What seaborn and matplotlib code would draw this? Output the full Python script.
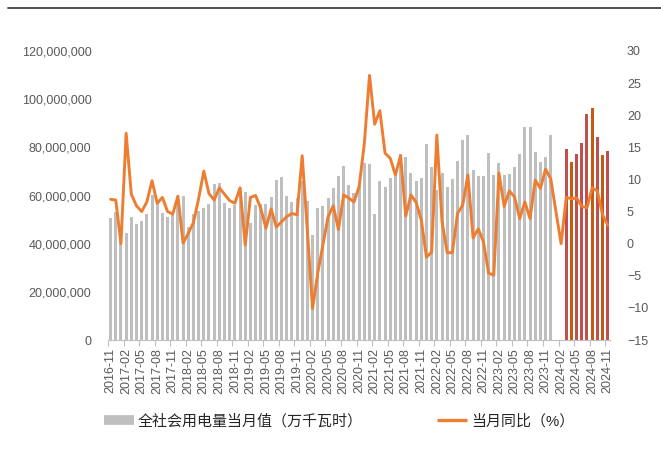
import numpy as np
import pandas as pd
import matplotlib
matplotlib.use("Agg")
import matplotlib.pyplot as plt
import seaborn as sns
from matplotlib.lines import Line2D
from matplotlib.ticker import FuncFormatter, FixedLocator

# ---------------- data ----------------
months = pd.period_range("2016-11", "2024-11", freq="M").strftime("%Y-%m").tolist()

# 全社会用电量当月值 (百万·万千瓦时)
consumption_m = [50.5, 53.0, 47.0, 44.6, 51.1, 48.3, 49.4, 52.2, 60.3, 56.8,
                 52.9, 51.2, 51.9, 59.8, 59.8, 47.0, 52.5, 53.4, 54.9, 56.3,
                 64.6, 65.0, 57.0, 54.7, 56.0, 62.0, 61.6, 48.5, 56.0, 56.4,
                 56.5, 59.5, 66.4, 67.5, 59.8, 57.5, 58.8, 66.0, 57.7, 43.8,
                 54.7, 55.5, 59.0, 63.1, 68.0, 72.4, 64.2, 61.2, 64.0, 73.5,
                 73.1, 52.4, 66.1, 63.5, 67.1, 70.0, 77.3, 75.8, 69.2, 66.0,
                 67.1, 81.2, 72.0, 62.3, 69.2, 63.4, 66.8, 74.3, 82.9, 85.0,
                 70.6, 68.1, 68.1, 77.5, 68.5, 73.4, 68.6, 69.0, 71.8, 77.3,
                 88.6, 88.3, 77.9, 74.0, 76.1, 85.3, None, None, 79.3, 73.9,
                 77.4, 82.0, 93.9, 96.3, 84.3, 77.0, 78.5]

# 当月同比 (%)
yoy = [6.9, 6.8, 0.0, 17.2, 7.7, 5.9, 5.0, 6.5, 9.8, 6.3,
       7.2, 5.0, 4.6, 7.4, 0.1, 1.6, 3.3, 7.0, 11.3, 7.8,
       6.8, 8.7, 7.7, 6.7, 6.3, 8.7, -0.2, 7.2, 7.5, 5.5,
       2.4, 5.4, 2.6, 3.4, 4.2, 4.7, 4.5, 13.7, 2.0, -10.1,
       -4.6, -0.2, 4.2, 5.9, 2.2, 7.6, 7.1, 6.5, 8.9, 15.6,
       26.2, 18.6, 20.7, 14.1, 13.3, 10.7, 13.7, 4.3, 7.6, 6.4,
       3.7, -2.1, -1.3, 16.9, 3.5, -1.4, -1.4, 4.7, 6.0, 10.7,
       0.9, 2.3, 0.3, -4.6, -4.9, 11.0, 5.8, 8.2, 7.3, 3.9,
       6.5, 3.9, 9.9, 8.6, 11.6, 10.1, 5.0, 0.0, 7.2, 7.0,
       7.1, 5.8, 5.6, 8.7, 8.2, 4.5, 2.9]

bar_group = (["gray"] * 88 +
             ["red", "orange", "red", "red", "red", "orange", "red", "orange", "red"])

legend_labels = ["全社会用电量当月值（万千瓦时）", "当月同比（%）"]

group_colors = {"gray": "#BFBFBF", "red": "#C0504D", "orange": "#C55A11"}
line_color = "#ED7D31"
tick_color = "#595959"

# ---------------- figure ----------------
sns.set_theme(style="white")
plt.rcParams["font.family"] = ["Liberation Sans", "Noto Sans CJK SC", "DejaVu Sans"]

df = pd.DataFrame({"month": months,
                   "value": [np.nan if v is None else v * 1e6 for v in consumption_m],
                   "group": bar_group})
month_palette = {m: group_colors[g] for m, g in zip(months, bar_group)}
df_bars = df.dropna()

fig = plt.figure(figsize=(6.61, 4.61), dpi=100)
ax = fig.add_axes([108 / 661, 1 - 340 / 461, (610.3 - 108) / 661, 289 / 461])

sns.barplot(data=df_bars, x="month", y="value", hue="month", order=months,
            hue_order=months, palette=month_palette, dodge=False,
            width=0.58, errorbar=None, legend=False, saturation=1,
            linewidth=0, edgecolor="none", ax=ax)

ax.set_xlim(-0.5, len(months) - 0.5)
ax.set_ylim(0, 120e6)
ax.set_yticks(np.arange(0, 120e6 + 1, 20e6))
ax.yaxis.set_major_formatter(FuncFormatter(lambda v, p: f"{int(v):,}"))
ax.set_xlabel("")
ax.set_ylabel("")

ax2 = ax.twinx()
sns.lineplot(x=np.arange(len(months)), y=yoy, ax=ax2, color=line_color,
             linewidth=2.1, legend=False)
ax2.set_ylim(-15, 30)
ax2.set_yticks(np.arange(-15, 31, 5))
ax2.set_xlim(-0.5, len(months) - 0.5)
ax2.set_ylabel("")

# x ticks
ax.xaxis.set_major_locator(FixedLocator(np.arange(0, len(months), 3)))
ax.set_xticklabels(months[::3], rotation=90)
ax.xaxis.set_minor_locator(FixedLocator(np.arange(0, len(months), 3) - 0.5))
ax.tick_params(axis="x", which="major", length=0, pad=6, labelsize=9, labelcolor=tick_color)
ax.tick_params(axis="x", which="minor", length=4, width=0.8, color="#BFBFBF", bottom=True)
ax.tick_params(axis="y", length=0, pad=12, labelsize=9, labelcolor=tick_color)
ax2.tick_params(axis="y", length=0, pad=12, labelsize=9, labelcolor=tick_color)

for a in (ax, ax2):
    for s in ("top", "left", "right"):
        a.spines[s].set_visible(False)
ax2.spines["bottom"].set_visible(False)
ax.spines["bottom"].set_color("#BFBFBF")
ax.spines["bottom"].set_linewidth(0.8)

# top rule
fig.add_artist(Line2D([8 / 661, 1.0], [1 - 8.5 / 461] * 2, color="#404040",
                      linewidth=1.3, transform=fig.transFigure))

handles = [Line2D([], [], color=group_colors["gray"], linewidth=7, solid_capstyle="butt"),
           Line2D([], [], color=line_color, linewidth=2.4, solid_capstyle="butt")]
fig.legend(handles, legend_labels, loc="center", bbox_to_anchor=(0.513, 0.087),
           ncol=2, frameon=False, fontsize=10.8, handlelength=2.0,
           handletextpad=0.25, columnspacing=5.0, labelcolor="#262626")

fig.savefig("out.png", dpi=100)
